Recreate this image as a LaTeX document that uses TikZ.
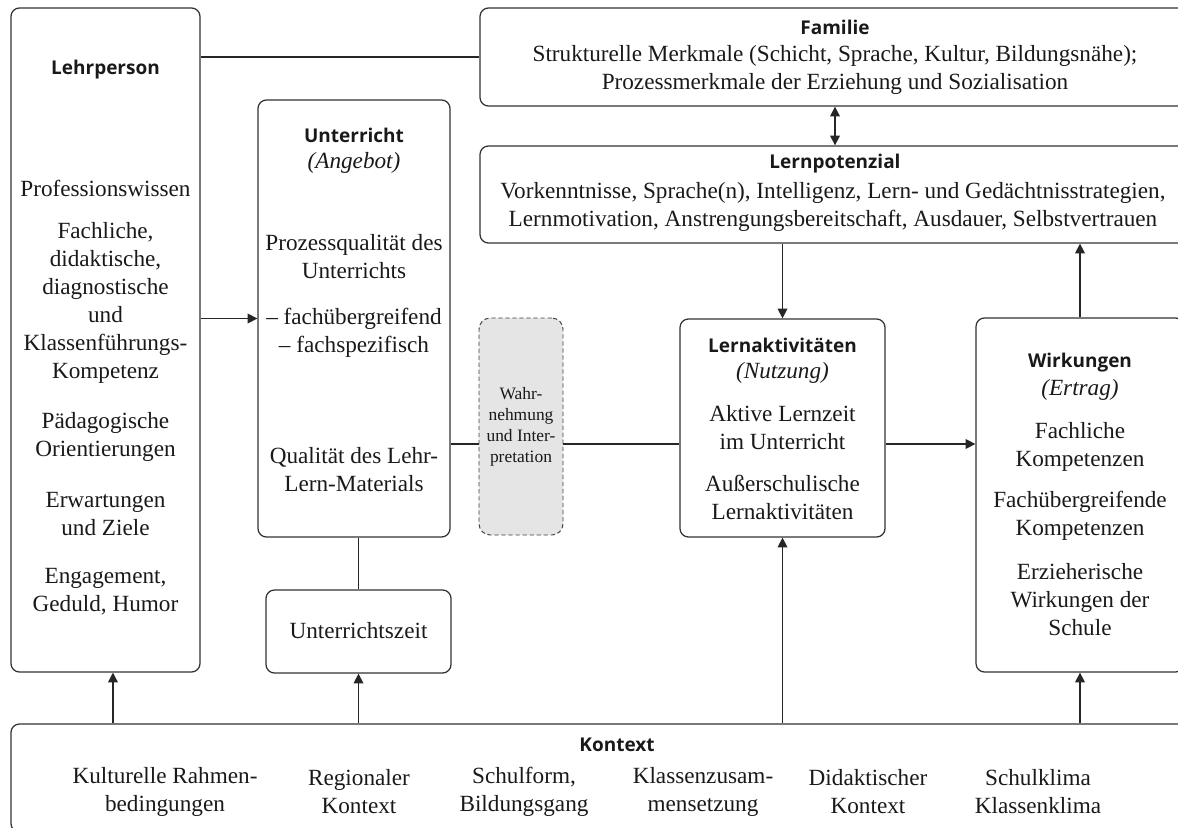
\documentclass[tikz,border=0pt]{standalone}
\usepackage{fontspec}
\setmainfont{Liberation Serif}
\newfontfamily\headfont{Open Sans}
\usetikzlibrary{arrows.meta,fit}

\newcommand{\bodysize}{\fontsize{16.5}{19.9}\selectfont}
\newcommand{\wahrsize}{\fontsize{12.4}{15}\selectfont}

\tikzset{
  box/.style={draw=black!80, line width=0.9pt, rounded corners=6pt, inner sep=0pt},
  wahr/.style={draw=black!75, densely dashed, fill=gray!20, line width=0.7pt, rounded corners=8pt, inner sep=0pt},
  head/.style={font=\headfont\bfseries\fontsize{13.5}{16}\selectfont, text=black!90, inner sep=0pt},
  txt/.style={font=\bodysize, text=black!90, align=center, inner sep=0pt},
  link/.style={draw=black!85, line width=0.9pt},
  arr/.style={link, -{Triangle[width=7pt,length=7pt]}},
  arrboth/.style={link, {Triangle[width=7pt,length=7pt]}-{Triangle[width=7pt,length=7pt]}},
}

\begin{document}
\begin{tikzpicture}[x=0.025cm, y=-0.025cm]

    \clip (0,0) rectangle (1178,828);

    % boxes
    \node[box, fit={(11,8) (200,672)}] (lehrer) {};
    \node[box, fit={(480,8) (1190,106)}] (familie) {};
    \node[box, fit={(480,146) (1190,243)}] (potenzial) {};
    \node[box, fit={(258,100) (450,537)}] (unterricht) {};
    \node[box, fit={(266,590) (451,673)}] (zeit) {};
    \node[wahr, fit={(479,318) (563,535)}] (wahrnehmung) {};
    \node[box, fit={(680,319) (885,537)}] (lernakt) {};
    \node[box, fit={(976,318) (1184,672)}] (wirkung) {};
    \node[box, fit={(11,724) (1223,832)}] (kontext) {};

    % Lehrperson
    \node[head] (lehrer-t) at (105.5,70) {Lehrperson};
    \node[txt] (lehrer-a) at (105.5,188) {Professionswissen};
    \node[txt] (lehrer-b) at (105.5,303) {Fachliche,\\didaktische,\\diagnostische\\und\\Klassenführungs-\\Kompetenz};
    \node[txt] (lehrer-c) at (105.5,437) {Pädagogische\\Orientierungen};
    \node[txt] (lehrer-d) at (105.5,514) {Erwartungen\\und Ziele};
    \node[txt] (lehrer-e) at (105.5,591.5) {Engagement,\\Geduld, Humor};

    % Familie, Lernpotenzial
    \node[head] (familie-t) at (835,27) {Familie};
    \node[txt] (familie-a) at (835,69.5) {Strukturelle Merkmale (Schicht, Sprache, Kultur, Bildungsnähe);\\Prozessmerkmale der Erziehung und Sozialisation};
    \node[head] (potenzial-t) at (835,164) {Lernpotenzial};
    \node[txt] (potenzial-a) at (833,206.5) {Vorkenntnisse, Sprache(n), Intelligenz, Lern- und Gedächtnisstrategien,\\Lernmotivation, Anstrengungsbereitschaft, Ausdauer, Selbstvertrauen};

    % Unterricht
    \node[head] (unterricht-t) at (354,135) {Unterricht};
    \node[txt] (unterricht-a) at (354,163) {\itshape (Angebot)};
    \node[txt] (unterricht-b) at (354,256.5) {Prozessqualität des\\Unterrichts};
    \node[txt] (unterricht-c) at (354,332.5) {-- fachübergreifend\\-- fachspezifisch};
    \node[txt] (unterricht-d) at (354,469.5) {Qualität des Lehr-\\Lern-Materials};
    \node[txt] (zeit-t) at (358.5,631) {Unterrichtszeit};

    \node[txt, font=\wahrsize] (wahr-t) at (521,427) {Wahr-\\nehmung\\und Inter-\\pretation};

    % Lernaktivitaeten
    \node[head] (lernakt-t) at (782.5,345) {Lernaktivitäten};
    \node[txt] (lernakt-a) at (782.5,373) {\itshape (Nutzung)};
    \node[txt] (lernakt-b) at (782.5,428) {Aktive Lernzeit\\im Unterricht};
    \node[txt] (lernakt-c) at (782.5,497.5) {Außerschulische\\Lernaktivitäten};

    % Wirkungen
    \node[head] (wirkung-t) at (1080,363) {Wirkungen};
    \node[txt] (wirkung-a) at (1080,390) {\itshape (Ertrag)};
    \node[txt] (wirkung-b) at (1080,447) {Fachliche\\Kompetenzen};
    \node[txt] (wirkung-c) at (1080,516) {Fachübergreifende\\Kompetenzen};
    \node[txt] (wirkung-d) at (1080,600) {Erzieherische\\Wirkungen der\\Schule};

    % Kontext
    \node[head] (kontext-t) at (617,745) {Kontext};
    \node[txt] (k1) at (165,791.5) {Kulturelle Rahmen-\\bedingungen};
    \node[txt] (k2) at (359,791.5) {Regionaler\\Kontext};
    \node[txt] (k3) at (524,791.5) {Schulform,\\Bildungsgang};
    \node[txt] (k4) at (703,791.5) {Klassenzusam-\\mensetzung};
    \node[txt] (k5) at (868,791.5) {Didaktischer\\Kontext};
    \node[txt] (k6) at (1038,791.5) {Schulklima\\Klassenklima};

    % connectors
    \coordinate (flow) at (0,444);
    \coordinate (lehrer-in) at ([xshift=5.3pt]lehrer.south);
    \draw[link] (familie.west -| lehrer.east) -- (familie.west);
    \draw[arr] (unterricht.west -| lehrer.east) -- (unterricht.west);
    \draw[link] (unterricht.east |- flow) -- (wahrnehmung.west |- flow);
    \draw[link] (wahrnehmung.east |- flow) -- (lernakt.west |- flow);
    \draw[arr] (lernakt.east |- flow) -- (wirkung.west |- flow);
    \draw[arrboth] (familie.south) -- (potenzial.north);
    \draw[arr] (lernakt.north |- potenzial.south) -- (lernakt.north);
    \draw[arr] (wirkung.north) -- (wirkung.north |- potenzial.south);
    \draw[link] (zeit.north |- unterricht.south) -- (zeit.north);
    \draw[arr] (lehrer-in |- kontext.north) -- (lehrer-in);
    \draw[arr] (zeit.south |- kontext.north) -- (zeit.south);
    \draw[arr] (lernakt.south |- kontext.north) -- (lernakt.south);
    \draw[arr] (wirkung.south |- kontext.north) -- (wirkung.south);

\end{tikzpicture}
\end{document}
